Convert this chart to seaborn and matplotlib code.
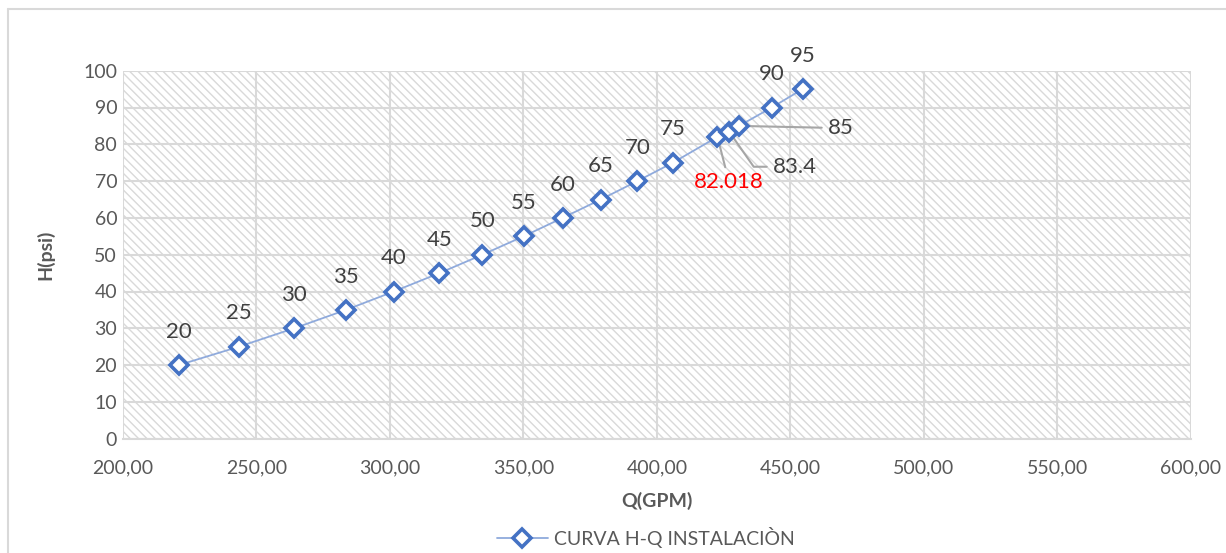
import numpy as np
import pandas as pd
import matplotlib
matplotlib.use("Agg")
import matplotlib.pyplot as plt
from matplotlib.patches import Rectangle
from matplotlib.lines import Line2D
import seaborn as sns

# data
caudal_gpm = [221.0, 243.5, 264.2, 283.6, 301.5, 318.6, 334.7, 350.1, 364.7,
              379.0, 392.7, 406.0, 422.7, 427.1, 430.8, 443.0, 454.6]
presion_psi = [20, 25, 30, 35, 40, 45, 50, 55, 60, 65, 70, 75, 82.018, 83.4, 85, 90, 95]
etiquetas = ["20", "25", "30", "35", "40", "45", "50", "55", "60", "65", "70",
             "75", "82.018", "83.4", "85", "90", "95"]
x_ticks = [200, 250, 300, 350, 400, 450, 500, 550, 600]
y_ticks = [0, 10, 20, 30, 40, 50, 60, 70, 80, 90, 100]

df = pd.DataFrame({"Q": caudal_gpm, "H": presion_psi, "lab": etiquetas})

sns.set_style("white")
plt.rcParams["font.family"] = ["Lato", "DejaVu Sans"]
plt.rcParams["hatch.color"] = "#D9D9D9"
plt.rcParams["hatch.linewidth"] = 1.0

fig = plt.figure(figsize=(12.26, 5.53), dpi=100)
ax = fig.add_axes([122.7 / 1226, 1 - 438.7 / 553, (1191 - 122.7) / 1226, (438.7 - 70.7) / 553])

# hatched plot area background
ax.add_patch(Rectangle((0, 0), 1, 1, transform=ax.transAxes, facecolor="white",
                       edgecolor="#D9D9D9", hatch="\\\\\\\\", linewidth=0, zorder=0))

sns.lineplot(data=df, x="Q", y="H", ax=ax, color="#8FAADC", linewidth=1.3,
             marker="D", markersize=9.5, markerfacecolor="white",
             markeredgecolor="#4472C4", markeredgewidth=2.6, sort=False, zorder=5)

ax.set_xlim(200, 600)
ax.set_ylim(0, 100)
ax.set_xticks(x_ticks)
ax.set_yticks(y_ticks)
ax.set_xticklabels([f"{v:.2f}".replace(".", ",") for v in x_ticks])
ax.set_yticklabels([str(v) for v in y_ticks])
ax.grid(True, color="#D9D9D9", linewidth=1.5, zorder=1)
ax.set_axisbelow(True)
for s in ax.spines.values():
    s.set_visible(False)
ax.spines["bottom"].set_visible(True)
ax.spines["bottom"].set_color("#D9D9D9")
ax.spines["bottom"].set_linewidth(1.5)
ax.tick_params(axis="both", length=0, labelsize=14, colors="#595959")
ax.tick_params(axis="x", pad=15)
ax.tick_params(axis="y", pad=4)

ax.set_xlabel("Q(GPM)", fontsize=14, fontweight="bold", color="#595959", labelpad=11)
ax.set_ylabel("H(psi)", fontsize=14, fontweight="bold", color="#595959", labelpad=21)

# data labels
lead = dict(arrowstyle="-", color="#A6A6A6", lw=1.5, shrinkB=4)
for q, h, lab in zip(df["Q"], df["H"], df["lab"]):
    if lab == "85":
        ax.annotate(lab, xy=(q, h), xytext=(464.0, 84.4), fontsize=16, color="#404040",
                    va="center", ha="left", arrowprops=dict(lead, shrinkA=2))
    elif lab == "83.4":
        ax.annotate(lab, xy=(q, h), xytext=(443.4, 73.9), fontsize=16, color="#404040",
                    va="center", ha="left",
                    arrowprops=dict(lead, shrinkA=2,
                                    connectionstyle="angle,angleA=0,angleB=-55,rad=0"))
    elif lab == "82.018":
        ax.annotate(lab, xy=(q, h), xytext=(427.0, 69.8), fontsize=16, color="#FF0000",
                    va="center", ha="center", arrowprops=dict(lead, shrinkA=1))
    else:
        ax.annotate(lab, xy=(q, h), xytext=(0, 24), textcoords="offset points",
                    fontsize=16, color="#404040", ha="center", va="center")

# legend at the bottom
handle = Line2D([], [], color="#8FAADC", linewidth=1.3, marker="D", markersize=9.5,
                markerfacecolor="white", markeredgecolor="#4472C4", markeredgewidth=2.6)
fig.legend([handle], ["CURVA H-Q INSTALACIÒN"], loc="center", bbox_to_anchor=(0.527, 1 - 537 / 553),
           frameon=False, fontsize=14, labelcolor="#595959", handlelength=2.6,
           handletextpad=0.35)

# chart area border (left / top)
fig.add_artist(Line2D([8 / 1226, 8 / 1226], [0, 1 - 9 / 553], color="#D9D9D9", lw=1.5))
fig.add_artist(Line2D([8 / 1226, 1], [1 - 9 / 553, 1 - 9 / 553], color="#D9D9D9", lw=1.5))

fig.savefig("out.png", dpi=100)
